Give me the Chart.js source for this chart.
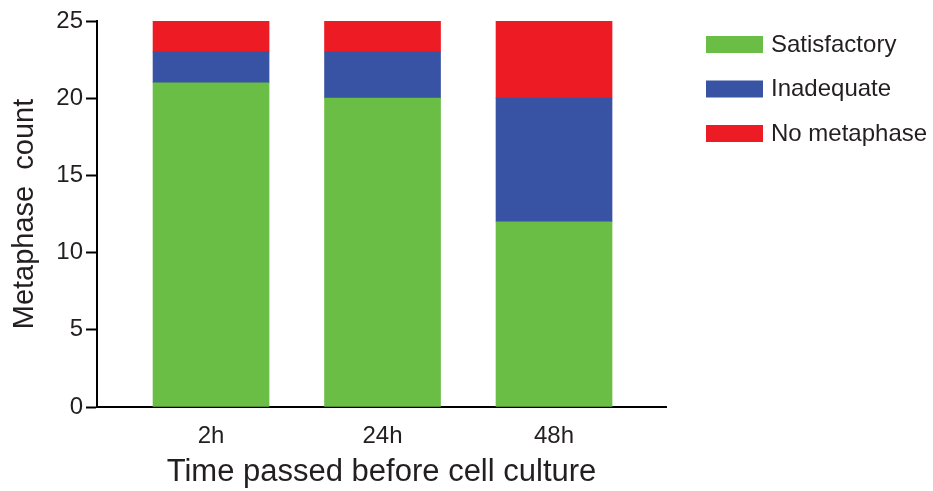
<!DOCTYPE html>
<html>
<head>
<meta charset="utf-8">
<script src="https://cdn.jsdelivr.net/npm/chart.js@4"></script>
<style>
  body { margin: 0; background: #fff; }
</style>
</head>
<body>
<canvas id="chart" width="933" height="491"></canvas>
<script>
// Chart data
const categories = ['2h', '24h', '48h'];
const satisfactory = [21, 20, 12];
const inadequate = [2, 3, 8];
const noMetaphase = [2, 2, 5];
const yTicks = [0, 5, 10, 15, 20, 25];

const FONT = "'Liberation Sans', Arial, sans-serif";
const INK = '#231f20';

function toPoints(values) {
    return values.map((v, i) => ({ x: i, y: v }));
}

// Simple legend on the right, drawn from the datasets
const sideLegend = {
    id: 'sideLegend',
    afterDraw(chart) {
        const ctx = chart.ctx;
        ctx.save();
        ctx.font = '24px ' + FONT;
        ctx.textBaseline = 'middle';
        chart.data.datasets.forEach((ds, i) => {
            const y = 36 + i * 44.5;
            ctx.fillStyle = ds.backgroundColor;
            ctx.fillRect(706, y, 57, 17);
            ctx.fillStyle = INK;
            ctx.fillText(ds.label, 771, y + 9);
        });
        ctx.restore();
    }
};

new Chart(document.getElementById('chart'), {
    type: 'bar',
    data: {
        datasets: [
            { label: 'Satisfactory', data: toPoints(satisfactory), backgroundColor: '#6abd45' },
            { label: 'Inadequate', data: toPoints(inadequate), backgroundColor: '#3953a4' },
            { label: 'No metaphase', data: toPoints(noMetaphase), backgroundColor: '#ed1c24' }
        ]
    },
    options: {
        responsive: false,
        animation: false,
        devicePixelRatio: 1,
        barThickness: 116,
        layout: { padding: { top: 21, right: 267, bottom: 0, left: 0 } },
        plugins: { legend: { display: false }, tooltip: { enabled: false } },
        scales: {
            x: {
                type: 'linear',
                stacked: true,
                offset: false,
                min: -0.665,
                max: 2.653,
                afterBuildTicks: s => { s.ticks = categories.map((c, i) => ({ value: i })); },
                afterFit: s => { s.height = 84; },
                grid: { display: true, offset: false, drawOnChartArea: false, drawTicks: false },
                border: { color: '#000', width: 2 },
                ticks: {
                    callback: v => categories[v],
                    padding: 15,
                    maxRotation: 0,
                    color: INK,
                    font: { family: FONT, size: 24 }
                },
                title: {
                    display: true,
                    text: 'Time passed before cell culture',
                    color: INK,
                    font: { family: FONT, size: 31 },
                    padding: { top: 0, bottom: 0 }
                }
            },
            y: {
                stacked: true,
                min: 0,
                max: 25,
                afterBuildTicks: s => { s.ticks = yTicks.map(v => ({ value: v })); },
                afterFit: s => { s.width = 97; },
                grid: { display: true, drawOnChartArea: false, drawTicks: true, tickLength: 11, tickWidth: 2, tickColor: '#000' },
                border: { color: '#000', width: 2 },
                ticks: {
                    padding: 3,
                    color: INK,
                    font: { family: FONT, size: 24 }
                },
                title: {
                    display: true,
                    text: 'Metaphase  count',
                    color: INK,
                    font: { family: FONT, size: 29 },
                    padding: { top: 8, bottom: 0 }
                }
            }
        }
    },
    plugins: [sideLegend]
});
</script>
</body>
</html>
